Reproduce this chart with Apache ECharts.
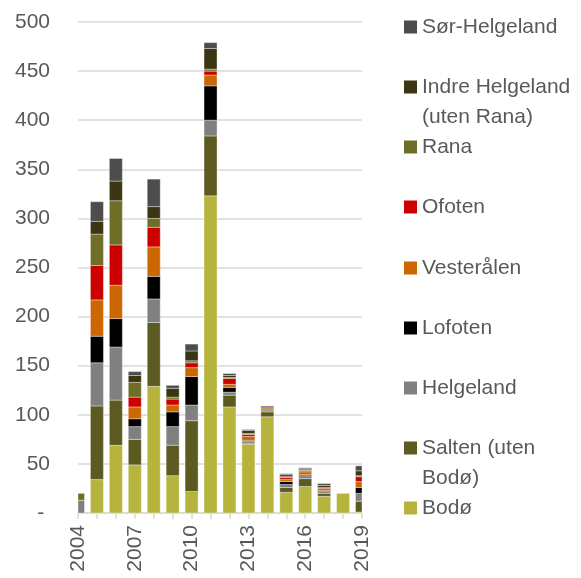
<!DOCTYPE html>
<html>
<head>
<meta charset="utf-8">
<script src="https://cdn.jsdelivr.net/npm/echarts@6/dist/echarts.min.js"></script>
<style>
html, body { margin: 0; padding: 0; background: #ffffff; }
#chart { width: 581px; height: 578px; }
</style>
</head>
<body>
<div id="chart"></div>
<script>
var years = ['2004','2005','2006','2007','2008','2009','2010','2011','2012','2013','2014','2015','2016','2017','2018','2019'];
var yTicks = [0, 50, 100, 150, 200, 250, 300, 350, 400, 450, 500];

var bodo       = [0, 34, 69, 49, 129, 38, 22, 323, 108, 70, 98, 21, 27, 17, 20, 1];
var salten     = [0, 75, 46, 26, 65, 31, 72, 61, 12, 1, 5, 5, 8, 3, 0, 11];
var helgeland  = [13, 44, 54, 13, 24, 19, 16, 16, 3, 2, 2, 3, 3, 2, 0, 8];
var lofoten    = [0, 27, 29, 8, 23, 15, 29, 35, 5, 1, 0, 3, 1, 1, 0, 6];
var vesteralen = [0, 37, 34, 12, 30, 7, 9, 11, 3, 4, 2, 2, 3, 2, 0, 6];
var ofoten     = [0, 35, 41, 10, 20, 6, 5, 4, 6, 2, 1, 2, 1, 1, 0, 5];
var rana       = [7, 32, 45, 15, 9, 2, 2, 2, 1, 1, 0, 1, 1, 0, 0, 1];
var indre      = [0, 13, 20, 7, 12, 9, 10, 21, 2, 3, 0, 2, 1, 2, 0, 5];
var sor        = [0, 20, 23, 4, 28, 3, 7, 6, 2, 1, 1, 1, 1, 2, 0, 5];

var seriesNames = ['Bodø', 'Salten (uten Bodø)', 'Helgeland', 'Lofoten', 'Vesterålen', 'Ofoten', 'Rana', 'Indre Helgeland (uten Rana)', 'Sør-Helgeland'];
var legendLabels = ['Bodø', 'Salten (uten\nBodø)', 'Helgeland', 'Lofoten', 'Vesterålen', 'Ofoten', 'Rana', 'Indre Helgeland\n(uten Rana)', 'Sør-Helgeland'];
var seriesData = [bodo, salten, helgeland, lofoten, vesteralen, ofoten, rana, indre, sor];
var colors = ['#b7b43e', '#5b5a20', '#808080', '#000000', '#cc6600', '#cc0000', '#6f6e26', '#3a3611', '#4d4d4d'];
var legendCenters = [508, 448, 388, 328, 268, 207, 147, 87, 27];

var font = 'Liberation Sans';
var textColor = '#595959';
var BAR_W = 13;

// stacked [index, base, top] triples built from the data arrays
var cumul = years.map(function () { return 0; });
var stackedData = seriesData.map(function (arr) {
  return arr.map(function (v, j) {
    var base = cumul[j];
    cumul[j] = base + v;
    return [j, base, base + v, v];
  });
});

function renderBar(params, api) {
  var v = api.value(3);
  if (!v) return null;
  var p0 = api.coord([api.value(0), api.value(1)]);
  var p1 = api.coord([api.value(0), api.value(2)]);
  var cs = params.coordSys;
  var rect = echarts.graphic.clipRectByRect(
    { x: p0[0] - BAR_W / 2, y: p1[1], width: BAR_W, height: p0[1] - p1[1] },
    { x: cs.x, y: cs.y - 5, width: cs.width, height: cs.height + 5 }
  );
  if (!rect) return null;
  return {
    type: 'rect',
    shape: rect,
    style: api.style({ stroke: 'rgba(255,255,255,0.6)', lineWidth: 0.6 })
  };
}

var series = seriesNames.map(function (n, i) {
  return {
    name: n,
    type: 'custom',
    renderItem: renderBar,
    encode: { x: 0, y: 2 },
    data: stackedData[i],
    itemStyle: { color: colors[i] }
  };
});

var legends = seriesNames.map(function (n, i) {
  var twoLine = legendLabels[i].indexOf('\n') >= 0;
  return {
    orient: 'vertical',
    left: 404,
    top: twoLine ? legendCenters[i] - 45 : legendCenters[i] - 15,
    padding: 0,
    itemWidth: 13,
    itemHeight: 13,
    itemGap: 0,
    icon: 'rect',
    selectedMode: false,
    data: [{ name: n, itemStyle: { color: colors[i] } }],
    formatter: function () { return twoLine ? ' \n' + legendLabels[i] : legendLabels[i]; },
    textStyle: {
      fontFamily: font,
      fontSize: 21,
      color: textColor,
      lineHeight: 30
    }
  };
});

var chart = echarts.init(document.getElementById('chart'), null, { renderer: 'canvas' });
chart.setOption({
  animation: false,
  backgroundColor: '#ffffff',
  color: colors,
  legend: legends,
  grid: { left: 78, right: 219, top: 22, bottom: 65, containLabel: false },
  xAxis: {
    type: 'category',
    data: years,
    boundaryGap: false,
    axisLine: { show: true, lineStyle: { color: '#d9d9d9', width: 1.5 } },
    axisTick: { show: true, interval: 0, length: 6, lineStyle: { color: '#d9d9d9', width: 1.5 } },
    axisLabel: {
      interval: 2,
      rotate: 90,
      margin: 12,
      fontFamily: font,
      fontSize: 21,
      color: textColor
    },
    splitLine: { show: false }
  },
  yAxis: {
    type: 'value',
    min: yTicks[0],
    max: yTicks[yTicks.length - 1],
    interval: 50,
    axisLine: { show: false },
    axisTick: { show: false },
    axisLabel: {
      margin: 28,
      fontFamily: font,
      fontSize: 21,
      color: textColor,
      formatter: function (v) { return v === 0 ? '- ' : String(v); }
    },
    splitLine: { show: true, lineStyle: { color: '#d9d9d9', width: 1.5 } }
  },
  series: series
});
</script>
</body>
</html>
